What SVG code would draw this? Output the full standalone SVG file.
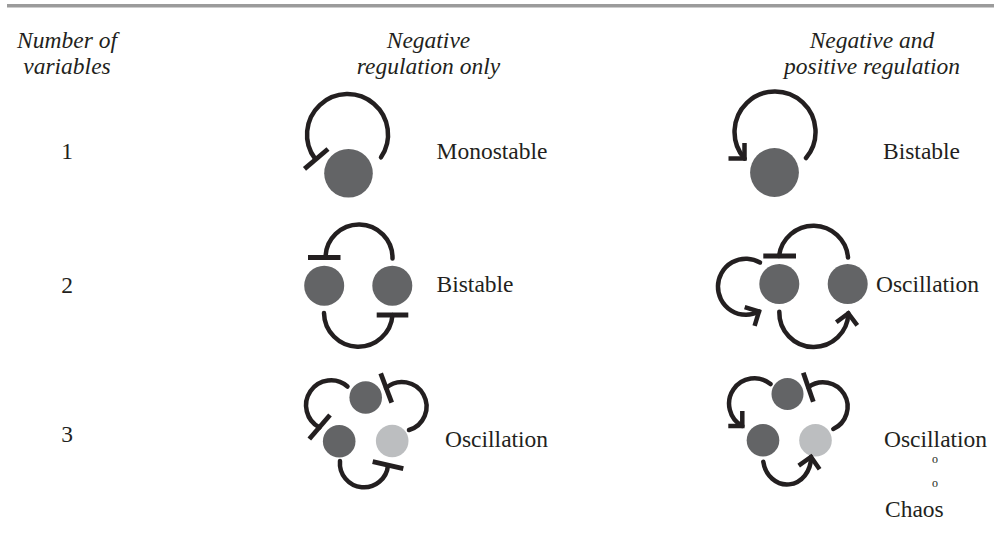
<svg xmlns="http://www.w3.org/2000/svg" width="994" height="533" viewBox="0 0 994 533">
<style>
.hdr{font-family:"Liberation Serif","Times New Roman",serif;font-style:italic;font-size:23.5px;fill:#231f20;text-anchor:middle}
.lbl{font-family:"Liberation Serif","Times New Roman",serif;font-size:23.5px;fill:#231f20}
.num{font-family:"Liberation Serif","Times New Roman",serif;font-size:23.5px;fill:#231f20;text-anchor:middle}
.dot{font-family:"Liberation Serif","Times New Roman",serif;font-size:12px;fill:#231f20;text-anchor:middle}
.dark{fill:#636466}
.light{fill:#bcbec0}
.edge{fill:none;stroke:#231f20;stroke-width:4.5;stroke-linecap:round}
.bar{fill:none;stroke:#231f20;stroke-width:4.8}
.head{fill:none;stroke:#231f20;stroke-width:4.5;stroke-linejoin:miter;stroke-miterlimit:10}
</style>
<rect x="7" y="4" width="987" height="3.5" fill="#9b9b9b"/>
<g id="headers">
<text class="hdr" x="67" y="47.5">Number of</text>
<text class="hdr" x="67" y="74">variables</text>
<text class="hdr" x="428.5" y="47.5">Negative</text>
<text class="hdr" x="428.5" y="74">regulation only</text>
<text class="hdr" x="872" y="47.5">Negative and</text>
<text class="hdr" x="872" y="74">positive regulation</text>
</g>
<g id="row-numbers">
<text class="num" x="67" y="159">1</text>
<text class="num" x="67" y="293">2</text>
<text class="num" x="67" y="442">3</text>
</g>
<g id="labels">
<text class="lbl" x="436.5" y="159">Monostable</text>
<text class="lbl" x="883" y="159">Bistable</text>
<text class="lbl" x="436.5" y="292">Bistable</text>
<text class="lbl" x="876" y="292">Oscillation</text>
<text class="lbl" x="445" y="446.5">Oscillation</text>
<text class="lbl" x="884" y="446.5">Oscillation</text>
<text class="dot" x="935" y="463">o</text>
<text class="dot" x="935" y="487">o</text>
<text class="lbl" x="885" y="516.5">Chaos</text>
</g>
<g id="r1-neg-a"><circle class="dark" cx="348.5" cy="173.2" r="24.3"/></g>
<g id="r1-pos-a"><circle class="dark" cx="774.5" cy="172.5" r="24.4"/></g>
<g id="r2-neg-a"><circle class="dark" cx="324.2" cy="285.7" r="20"/></g>
<g id="r2-neg-b"><circle class="dark" cx="392.3" cy="285.7" r="20"/></g>
<g id="r2-pos-a"><circle class="dark" cx="779.3" cy="284" r="20"/></g>
<g id="r2-pos-b"><circle class="dark" cx="847.7" cy="284" r="20"/></g>
<g id="r3-neg-a"><circle class="dark" cx="365.7" cy="397.5" r="16.3"/></g>
<g id="r3-neg-b"><circle class="dark" cx="339.2" cy="441.2" r="16.3"/></g>
<g id="r3-neg-c"><circle class="light" cx="392.2" cy="441" r="16.3"/></g>
<g id="r3-pos-a"><circle class="dark" cx="787.5" cy="394" r="16"/></g>
<g id="r3-pos-b"><circle class="dark" cx="763" cy="440.3" r="16.3"/></g>
<g id="r3-pos-c"><circle class="light" cx="815.5" cy="440.3" r="16.3"/></g>
<g id="connectors">
<path class="edge" d="M381,157.3 A40.5 40.5 0 1 0 315.2,158.9"/>
<path class="bar" d="M304.5,168.8 L328,149"/>
<path class="edge" d="M806,158 A40.5 40.5 0 1 0 744.5,158.5"/>
<path class="head" d="M728.5,158.5 L744.5,158.5 L744.5,143"/>
<path class="edge" d="M325.5,257.5 A33.5 33.5 0 0 1 392.5,258.5"/>
<path class="bar" d="M308,257.5 L340.5,257.5"/>
<path class="edge" d="M324,313 A34.3 34.3 0 0 0 392.5,315"/>
<path class="bar" d="M376.7,315 L408.3,315"/>
<path class="edge" d="M779,256 A34.7 34.7 0 0 1 848,257.5"/>
<path class="bar" d="M763.3,256 L796,256"/>
<path class="edge" d="M760,262.5 A28 28 0 1 0 759,311.5"/>
<path class="head" d="M744.7,307.1 L759,311.5 L754.6,325.8"/>
<path class="edge" d="M779.3,311.7 A34.5 34.5 0 0 0 848.3,313.3"/>
<path class="head" d="M836.3,322.3 L848.3,313.3 L857.3,325.3"/>
<path class="edge" d="M347.5,386.5 A25 25 0 1 0 319.5,427.5"/>
<path class="bar" d="M309.3,439 L330,415"/>
<path class="edge" d="M386,388 A24.5 24.5 0 1 1 409,430"/>
<path class="bar" d="M380.7,373.3 L391.7,402.7"/>
<path class="edge" d="M340,461 A24 24 0 0 0 388,465.5"/>
<path class="bar" d="M372.7,461.7 L403.3,468.7"/>
<path class="edge" d="M770.5,384 A25.4 25.4 0 1 0 742.3,426"/>
<path class="head" d="M728.3,426 L742.3,426 L742.3,411"/>
<path class="edge" d="M808.3,387.2 A24.5 24.5 0 1 1 833.3,429"/>
<path class="bar" d="M803.3,372.7 L813.3,401.7"/>
<path class="edge" d="M763.3,461.7 A24 27 0 0 0 811,457"/>
<path class="head" d="M798.7,465.6 L811,457 L819.6,469.3"/>
</g>
</svg>
